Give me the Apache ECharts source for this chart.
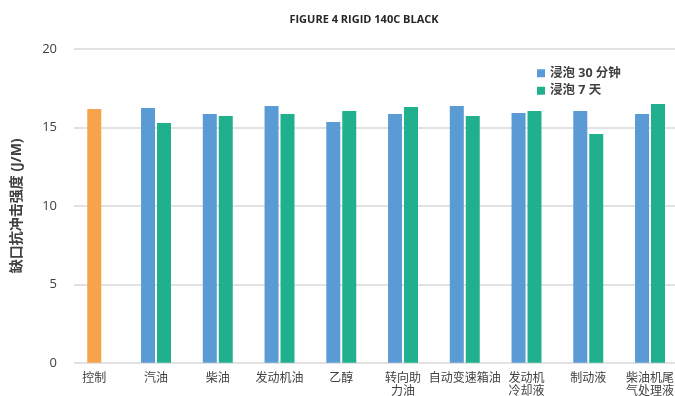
<!DOCTYPE html>
<html>
<head>
<meta charset="utf-8">
<script src="https://cdn.jsdelivr.net/npm/echarts@6/dist/echarts.min.js"></script>
<style>
  html, body { margin: 0; padding: 0; background: #fff; }
  #chart { width: 675px; height: 396px; }
</style>
</head>
<body>
<div id="chart"></div>
<script>
// Notched impact strength after fluid immersion
const categories = ['控制', '汽油', '柴油', '发动机油', '乙醇', '转向助\n力油', '自动变速箱油', '发动机\n冷却液', '制动液', '柴油机尾\n气处理液'];
const controlValues = [16.17, '-', '-', '-', '-', '-', '-', '-', '-', '-'];
const soak30min = ['-', 16.23, 15.85, 16.36, 15.34, 15.85, 16.36, 15.91, 16.04, 15.85];
const soak7days = ['-', 15.27, 15.72, 15.85, 16.04, 16.30, 15.72, 16.04, 14.58, 16.49];
const yTicks = { min: 0, max: 20, interval: 5 };

const FONT = '"Open Sans", "Noto Sans CJK SC", sans-serif';
const TEXT = '#404040';

const chart = echarts.init(document.getElementById('chart'), null, { renderer: 'canvas' });

chart.setOption({
  animation: false,
  backgroundColor: '#ffffff',
  title: {
    text: 'FIGURE 4 RIGID 140C BLACK',
    left: 359, top: 9, textAlign: 'center',
    textStyle: { fontFamily: FONT, fontSize: 11, fontWeight: 'bold', color: '#262626' }
  },
  legend: {
    orient: 'vertical',
    left: 532, top: 62,
    itemWidth: 8, itemHeight: 8, itemGap: 5,
    icon: 'rect',
    data: ['浸泡 30 分钟', '浸泡 7 天'],
    textStyle: { fontFamily: FONT, fontSize: 12.5, fontWeight: 'bold', color: TEXT }
  },
  grid: [
    // bar area
    { left: 63.4, width: 617.5, top: 48.8, bottom: 33.2, containLabel: false, outerBoundsMode: 'none' },
    // value gridlines and tick labels
    { left: 74, right: 0, top: 48.8, bottom: 33.2, containLabel: false, outerBoundsMode: 'none' }
  ],
  xAxis: [
    {
      type: 'category', gridIndex: 0, data: categories, position: 'bottom',
      axisLine: { show: false }, axisTick: { show: false },
      axisLabel: { interval: 0, fontFamily: FONT, fontSize: 12, color: TEXT, margin: 9, lineHeight: 13 }
    },
    {
      type: 'category', gridIndex: 0, data: categories, show: false, position: 'bottom'
    },
    { type: 'value', gridIndex: 1, show: false, min: 0, max: 1 }
  ],
  yAxis: [
    { type: 'value', gridIndex: 0, min: yTicks.min, max: yTicks.max, interval: yTicks.interval, show: false },
    {
      type: 'value', gridIndex: 1, min: yTicks.min, max: yTicks.max, interval: yTicks.interval,
      name: '缺口抗冲击强度 (J/M)', nameLocation: 'middle', nameGap: 50,
      nameTextStyle: { fontFamily: FONT, fontSize: 14, fontWeight: 'bold', color: TEXT },
      axisLine: { show: false }, axisTick: { show: false },
      axisLabel: { fontFamily: FONT, fontSize: 13, color: TEXT, margin: 17 },
      splitLine: { lineStyle: { color: '#d9d9d9', width: 1.5 } }
    }
  ],
  series: [
    {
      name: '控制', type: 'bar', xAxisIndex: 1, yAxisIndex: 0,
      data: controlValues, barWidth: 14,
      itemStyle: { color: '#F7A24C' }
    },
    {
      name: '浸泡 30 分钟', type: 'bar', xAxisIndex: 0, yAxisIndex: 0,
      data: soak30min, barWidth: 14, barGap: '14%',
      itemStyle: { color: '#5B9BD5' }
    },
    {
      name: '浸泡 7 天', type: 'bar', xAxisIndex: 0, yAxisIndex: 0,
      data: soak7days, barWidth: 14, barGap: '14%',
      itemStyle: { color: '#20B08D' }
    }
  ]
});
</script>
</body>
</html>
